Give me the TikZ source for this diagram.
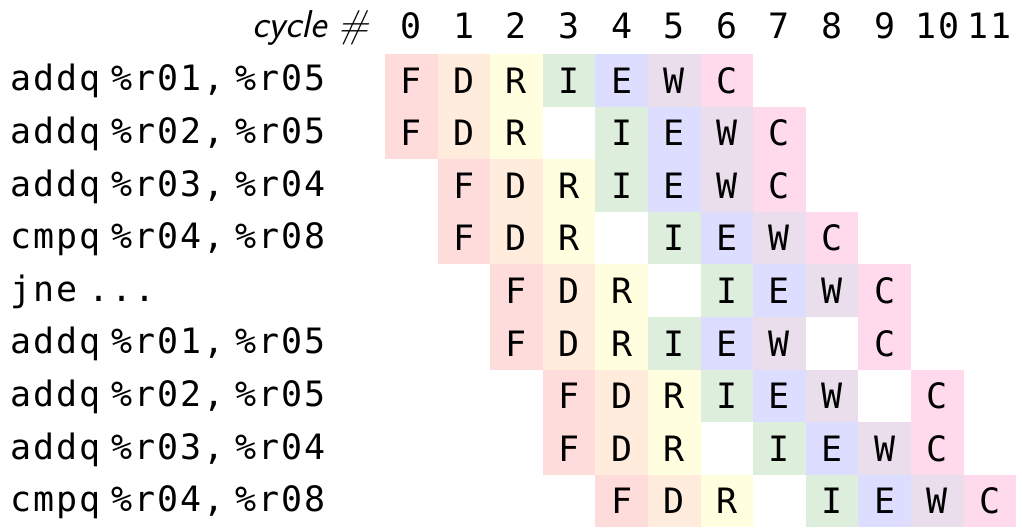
\documentclass[tikz,border=0pt]{standalone}
\usepackage{fontspec}
\newfontfamily\codefont[LetterSpace=6]{DejaVu Sans Mono}
\newcommand\gap{\hspace{0.2cm}}
\definecolor{colF}{RGB}{255,220,220}
\definecolor{colD}{RGB}{255,236,221}
\definecolor{colR}{RGB}{255,255,223}
\definecolor{colI}{RGB}{221,238,221}
\definecolor{colE}{RGB}{221,221,255}
\definecolor{colW}{RGB}{234,221,236}
\definecolor{colC}{RGB}{255,218,236}
\begin{document}
\begin{tikzpicture}[x=1cm,y=-1cm,
	cell/.style={minimum size=1cm,inner sep=0pt,font=\codefont\fontsize{18.9}{22}\selectfont},
	instr/.style={anchor=base west,inner sep=0pt,font=\codefont\fontsize{18.9}{22}\selectfont},
	num/.style={anchor=base,inner sep=0pt,font=\codefont\fontsize{18.9}{22}\selectfont},
	head/.style={anchor=base east,inner sep=0pt,font=\sffamily\itshape\fontsize{21}{24}\selectfont}]

	\useasboundingbox (0,0) rectangle (19.43,10.114);

	% cycle numbers
	\node[head] (cychead) at (7.03,0.72) {cycle \#};
	\foreach \c in {0,...,11}
		\node[num] (cyc-\c) at ({7.819+\c},0.74) {\c};

	% one row per instruction: label, then column/stage
	\foreach \r/\txt/\cells in {
		0/{addq\gap\%r01,\gap\%r05}/{0/F,1/D,2/R,3/I,4/E,5/W,6/C},
		1/{addq\gap\%r02,\gap\%r05}/{0/F,1/D,2/R,4/I,5/E,6/W,7/C},
		2/{addq\gap\%r03,\gap\%r04}/{1/F,2/D,3/R,4/I,5/E,6/W,7/C},
		3/{cmpq\gap\%r04,\gap\%r08}/{1/F,2/D,3/R,5/I,6/E,7/W,8/C},
		4/{jne\gap...}/{2/F,3/D,4/R,6/I,7/E,8/W,9/C},
		5/{addq\gap\%r01,\gap\%r05}/{2/F,3/D,4/R,5/I,6/E,7/W,9/C},
		6/{addq\gap\%r02,\gap\%r05}/{3/F,4/D,5/R,6/I,7/E,8/W,10/C},
		7/{addq\gap\%r03,\gap\%r04}/{3/F,4/D,5/R,7/I,8/E,9/W,10/C},
		8/{cmpq\gap\%r04,\gap\%r08}/{4/F,5/D,6/R,8/I,9/E,10/W,11/C}}
	{
		\node[instr] (ins-\r) at (0.19,{1.727+\r}) {\txt};
		\foreach \c/\s in \cells
			\node[cell,fill=col\s] (st-\r-\c) at ({7.819+\c},{1.527+\r}) {\s};
	}

\end{tikzpicture}
\end{document}
